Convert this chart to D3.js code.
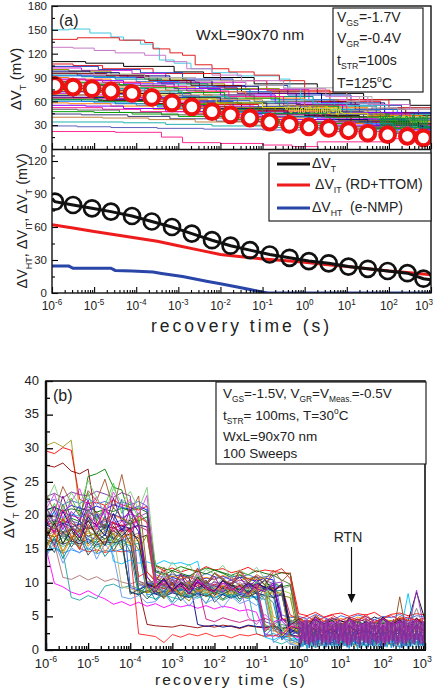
<!DOCTYPE html>
<html>
<head>
<meta charset="utf-8">
<script src="https://cdn.jsdelivr.net/npm/d3@7/dist/d3.min.js"></script>
<style>
html,body{margin:0;padding:0;background:#fff;}
svg{display:block;font-family:"Liberation Sans",Arial,Helvetica,sans-serif;}
text{white-space:pre;}
</style>
</head>
<body>
<svg id="chart" width="433" height="688"></svg>
<script>
// ================= DATA =================
// x: log10(recovery time / s)
const decadeExps = [-6,-5,-4,-3,-2,-1,0,1,2,3];
const yTicksA = [0,30,60,90,120,150,180];
const yTicksA2 = [0,30,60,90,120];
const yTicksB = [0,5,10,15,20,25,30,35,40];

// Panel (a) upper: mean of measured traces (red circles)
const circleLogT = [-5.93,-5.5,-5.05,-4.6,-4.1,-3.63,-3.15,-2.68,-2.2,-1.76,-1.3,-0.83,-0.36,0.1,0.57,1.04,1.5,1.97,2.44,2.82];
const meanDVT = [80,78,76,73,70,65,58,53,47,43,39,34,31,28,26,23,20,18,16,14];

// Panel (a) lower: model
const modelDVT = [83,80,77,74,70,65,60,54,48,43,39,35,32,29,27,24,22,20,18,13];
const dvtLineLogT = [-6,-5.93,-5.5,-5.05,-4.6,-4.1,-3.63,-3.15,-2.68,-2.2,-1.76,-1.3,-0.83,-0.36,0.1,0.57,1.04,1.5,1.97,2.44,2.82,3];
const dvtLineVal  = [86,83,80,77,74,70,65,60,54,48,43,39,35,32,29,27,24,22,20,18,13,12];
const itLogT = [-6,-5.5,-5,-4.5,-4,-3.5,-3,-2.5,-2,-1.5,-1,-0.5,0,0.5,1,1.5,2,2.5,3];
const itVal  = [62,59,56,53,50,47,43,39,35,33,31,29.5,28,26,24,22,20,18.5,16.5];
const htLogT = [-6,-5.6,-5.5,-4.6,-4.5,-4.1,-3.6,-3.4,-2.9,-2.3,-2.0,-1.6,-1.3,-1.05,-0.87,3];
const htVal  = [24.5,24.5,22.5,22.5,20.5,20,19,17.8,15,10.5,8.5,5.5,3.2,1.2,0,0];

// Panel (a) upper: individual traces, [log10 t, dVT(mV)] step points
const tracesA = [
[[-6,110],[-5.2,108],[-4.3,104],[-3.1,97],[-2.4,90],[-1.2,82],[0.3,70],[1.4,62],[2.5,55]],
[[-6,107],[-5.5,105],[-4.8,101],[-3.6,95],[-2.0,86],[-0.9,74],[0.6,60],[1.8,50]],
[[-6,104],[-4.9,100],[-3.9,96],[-2.9,88],[-1.7,80],[-0.4,68],[1.1,55],[2.3,46]],
[[-6,102],[-5.3,99],[-4.1,95],[-3.3,90],[-2.6,84],[-1.4,75],[0.1,62],[1.6,50],[2.7,42]],
[[-6,100],[-5.6,98],[-4.6,94],[-3.8,88],[-2.8,82],[-1.9,76],[-0.6,62],[0.8,50],[2.1,40]],
[[-6,98],[-5.1,96],[-4.4,92],[-3.2,86],[-2.2,79],[-1.1,70],[0.4,58],[1.9,45]],
[[-6,96],[-5.4,93],[-4.2,90],[-3.5,84],[-2.5,77],[-1.6,70],[-0.2,56],[1.3,46],[2.6,38]],
[[-6,95],[-4.7,92],[-3.7,86],[-2.7,80],[-1.5,72],[0.0,60],[1.2,50],[2.4,42]],
[[-6,93],[-5.3,91],[-4.5,88],[-3.4,82],[-2.3,75],[-1.3,66],[0.2,54],[1.7,43]],
[[-6,92],[-5.0,90],[-4.0,85],[-3.0,79],[-2.1,72],[-0.8,62],[0.7,50],[2.2,38]],
[[-6,90],[-5.6,88],[-4.6,84],[-3.6,78],[-2.6,72],[-1.4,64],[0.0,52],[1.5,42],[2.8,35]],
[[-6,88],[-5.2,86],[-4.3,82],[-3.1,76],[-2.0,68],[-0.7,58],[0.9,46],[2.3,36]],
[[-6,87],[-4.8,84],[-3.9,79],[-2.8,73],[-1.8,66],[-0.5,55],[1.0,44],[2.5,34]],
[[-6,85],[-5.4,83],[-4.4,80],[-3.3,74],[-2.4,68],[-1.2,60],[0.3,48],[1.8,38]],
[[-6,84],[-5.0,81],[-4.1,77],[-3.0,71],[-1.9,64],[-0.6,54],[0.8,44],[2.0,35]],
[[-6,82],[-5.5,80],[-4.7,76],[-3.7,70],[-2.7,64],[-1.6,57],[-0.1,47],[1.4,38],[2.6,31]],
[[-6,80],[-5.1,78],[-4.2,74],[-3.2,68],[-2.2,62],[-1.0,54],[0.5,44],[1.9,34]],
[[-6,79],[-4.9,76],[-3.8,72],[-2.9,66],[-1.8,59],[-0.4,50],[1.1,40],[2.4,32]],
[[-6,78],[-5.3,76],[-4.5,73],[-3.5,67],[-2.5,61],[-1.3,53],[0.2,44],[1.6,36],[2.8,30]],
[[-6,76],[-5.0,74],[-4.0,70],[-3.1,65],[-2.0,58],[-0.9,50],[0.6,41],[2.1,32]],
[[-6,75],[-5.6,73],[-4.6,70],[-3.6,64],[-2.6,58],[-1.5,51],[0.0,42],[1.3,35],[2.7,28]],
[[-6,73],[-5.2,71],[-4.3,67],[-3.4,62],[-2.3,56],[-1.1,48],[0.4,40],[1.8,31]],
[[-6,72],[-4.8,69],[-3.9,65],[-2.8,60],[-1.7,53],[-0.5,46],[1.0,37],[2.4,29]],
[[-6,70],[-5.4,68],[-4.4,64],[-3.3,59],[-2.4,54],[-1.2,47],[0.3,38],[1.7,30]],
[[-6,68],[-5.1,66],[-4.1,62],[-3.0,57],[-1.9,52],[-0.7,44],[0.8,36],[2.2,27]],
[[-6,67],[-5.5,65],[-4.7,62],[-3.7,57],[-2.7,51],[-1.4,45],[0.1,37],[1.5,30],[2.8,24]],
[[-6,65],[-5.0,63],[-4.2,60],[-3.2,55],[-2.1,50],[-0.9,43],[0.6,35],[2.0,27]],
[[-6,63],[-4.9,61],[-3.8,57],[-2.9,53],[-1.8,48],[-0.4,41],[1.1,33],[2.5,26]],
[[-6,62],[-5.3,60],[-4.5,57],[-3.5,53],[-2.5,47],[-1.3,41],[0.2,34],[1.6,27]],
[[-6,60],[-5.0,58],[-4.0,55],[-3.1,51],[-2.0,46],[-0.8,40],[0.7,32],[2.1,25]],
[[-6,58],[-5.6,57],[-4.6,54],[-3.6,50],[-2.6,45],[-1.5,39],[0.0,32],[1.4,26],[2.7,21]],
[[-6,55],[-5.2,54],[-4.3,51],[-3.3,47],[-2.2,43],[-1.0,37],[0.5,30],[1.9,24]],
[[-6,52],[-4.8,50],[-3.9,47],[-2.8,44],[-1.7,40],[-0.3,34],[1.2,28],[2.5,22]],
[[-6,50],[-5.4,49],[-4.4,46],[-3.4,43],[-2.3,39],[-1.1,34],[0.4,28],[1.8,22]],
[[-6,47],[-5.0,46],[-4.1,44],[-3.0,41],[-1.9,37],[-0.6,32],[0.9,26],[2.3,20]],
[[-6,44],[-5.3,43],[-4.2,41],[-3.2,38],[-2.1,35],[-0.8,30],[0.6,25],[2.0,20]],
[[-6,40],[-4.8,39],[-3.7,37],[-2.6,34],[-1.4,30],[0.0,26],[1.5,22],[2.7,18]],
[[-6,34],[-5.0,34],[-4.3,33],[-3.3,31],[-2.2,29],[-0.9,27],[0.8,24],[2.2,20]],
[[-6,29],[-5.4,28],[-4.6,27],[-3.5,26],[-2.4,25],[-1.0,24],[0.5,22],[2.0,20]]
];
const outlierTracesA = [
[[-6,150],[-5.6,151],[-5.1,146],[-4.6,141],[-4.3,137],[-3.9,132],[-3.6,127],[-3.45,112],[-3.1,108],[-2.7,101],[-2.2,96],[-1.6,92],[-0.6,88],[-0.35,76],[-0.1,62],[0.2,57],[1,55],[2,52]],
[[-6,138],[-5.4,140],[-4.4,137],[-3.8,134],[-3.6,126],[-3.2,121],[-2.9,118],[-2.6,106],[-2.2,101],[-1.8,97],[-1.2,93],[-0.6,86],[0,72],[1,62],[2,52]],
[[-6,128],[-5.5,127],[-5,124],[-4.5,121],[-3.8,118],[-3.3,110],[-2.8,101],[-2.2,93],[-1.5,86],[-0.5,76],[0.5,66],[1.5,56],[2.5,50]],
[[-6,22],[-4.5,21],[-3.4,15],[-2.9,8],[-2,7],[-1,5],[-0.3,3],[0.3,9],[1,9],[2,13]],
[[-6,96],[-5,94],[-3.8,90],[-2.6,86],[-1.4,80],[-0.5,77],[0.8,74],[1.0,60],[1.3,66],[1.6,52],[2.2,50]],
[[-6,74],[-5.2,72],[-4.1,68],[-3.0,63],[-2.1,58],[-1.0,52],[-0.45,50],[-0.4,53],[-0.35,46],[-0.3,52],[-0.25,47],[-0.2,53],[-0.15,45],[-0.1,51],[-0.05,46],[0,52],[0.05,47],[0.1,53],[0.15,45],[0.2,51],[0.25,46],[0.3,52],[0.35,44],[0.4,50],[0.45,46],[0.5,53],[0.55,45],[0.6,51],[0.65,47],[0.7,52],[0.75,44],[0.8,50],[0.85,46],[0.9,45],[1.5,40],[2.5,35]],
[[-6,62],[-4.8,60],[-3.5,56],[-2.2,50],[-1.0,45],[0.5,40],[1.76,41],[1.8,27],[1.84,40],[1.88,29],[1.92,42],[1.96,26],[2,39],[2.04,28],[2.08,41],[2.12,25],[2.16,40],[2.2,30],[2.24,42],[2.28,27],[2.32,39],[2.36,26],[2.4,41],[2.44,29],[2.48,40],[2.52,28],[2.56,42],[2.6,26],[2.64,39],[2.68,27],[2.72,41],[2.76,30],[2.8,40],[2.84,25],[2.88,42],[2.92,28]]
];
const outlierColorsA = ["#40c8e0","#e02020","#c878c8","#ff2a90","#b0b0b0","#e8e000","#00a030"];

// Panel (b): 100 sweeps (subset), sampled on a common log-time grid
const gridB = [-6,-5.8,-5.6,-5.4,-5.2,-5,-4.8,-4.6,-4.4,-4.2,-4,-3.8,-3.6,-3.4,-3.2,-3,-2.8,-2.6,-2.4,-2.2,-2,-1.8,-1.6,-1.4,-1.2,-1,-0.8,-0.6,-0.4,-0.2,0,0.2,0.4,0.6,0.8,1,1.2,1.4,1.6,1.8,2,2.2,2.4,2.6,2.8,3];
const tracesB = [
[30.4,30.9,30.2,31.2,20.5,19.8,20.6,19.4,20.2,19.6,18.8,19.5,9.8,9.4,9.9,9.2,9.6,10.1,9.3,9.7,9.0,9.5,9.8,9.1,9.6,9.3,3.8,3.2,2.9,3.5,3.1,2.6,3.4,2.8,3.2,2.5,3.6,2.9,3.3,2.7,3.0,3.5,2.8,3.2,3.7,3.1],
[29.6,29.2,30.1,29.7,22.4,21.8,22,21.5,22.3,21.6,21.2,20.8,21.4,12.5,11.8,12.2,11.6,12.0,11.7,12.4,11.9,12.1,11.5,11.8,12.3,11.6,11.9,11.7,11.5,11.4,5.4,5.1,5.6,4.9,5.3,5.5,5.0,5.4,5.2,5.6,4.8,5.3,5.5,5.1,5.4,5.2],
[27.5,27.2,27.8,26.6,26.2,26.9,18.9,18.5,18.1,18.6,17.9,9.2,3.8,3.6,3.5,3.4,3.7,3.5,3.3,3.6,3.4,3.7,3.5,3.2,3.6,3.4,3.3,3.5,3.1,3.4,3.2,3.5,2.9,3.3,3.6,3.0,3.4,2.8,3.2,3.5,3.1,2.9,3.4,3.2,3.6,3.0],
[18.5,19.2,18.8,19.6,19.1,25.8,26.2,26.9,24.2,23.8,19.6,19.2,19.8,12.6,12.1,11.8,12.4,12.0,11.6,12.2,11.9,11.4,10.8,11.2,10.6,10.9,9.6,9.9,9.4,9.7,4.1,3.6,4.4,3.8,4.2,3.5,4.0,4.3,3.7,4.1,3.9,4.4,3.6,4.0,4.2,3.8],
[22.8,23.3,22.6,23.5,23.1,22.9,23.6,23.2,22.7,23.4,22.9,10.2,9.8,10.4,9.6,10.0,9.7,10.3,9.9,9.5,10.1,9.8,10.4,9.7,10.0,9.6,4.2,3.8,4.5,3.9,4.3,3.7,4.6,4.0,3.6,4.4,3.9,4.2,3.5,4.5,4.1,3.8,4.3,3.9,4.6,4.0],
[20.8,21.3,20.6,21.5,21.1,20.7,21.4,20.9,21.6,21.2,20.9,21.4,20.8,10.6,10.2,10.8,10.4,10.9,10.3,10.7,10.5,11.0,10.4,10.8,10.6,10.2,10.7,10.4,2.6,2.2,2.8,2.3,3.1,2.5,2.9,2.1,2.7,3.2,2.4,2.8,2.2,3.0,2.6,2.3,2.9,2.5],
[17.2,16.8,17.5,16.6,17.9,16.9,17.4,16.5,17.8,16.7,17.3,16.6,17.1,9.6,9.2,9.8,9.4,9.9,9.3,9.7,9.5,9.1,9.6,9.4,9.8,9.2,9.5,9.3,4.6,4.2,4.8,4.1,4.5,3.9,4.7,4.3,4.0,4.6,4.2,4.9,4.4,4.1,4.7,4.3,8.6,4.5],
[15.2,9.9,9.4,8.6,8.2,8.8,8.1,7.6,6.8,7.2,6.6,7.1,6.5,6.9,6.3,6.8,6.4,6.7,6.2,6.6,6.1,6.5,6.3,5.8,6.0,5.6,2.4,2.0,2.6,2.2,1.8,2.3,1.6,2.1,1.9,2.4,1.5,2.0,2.2,1.7,2.3,1.8,2.1,1.6,2.2,1.9],
[16.5,15.8,10.8,10.5,11.1,10.4,10.9,10.2,10.6,10.1,9.8,10.3,9.6,9.9,9.4,9.7,9.2,9.6,9.0,9.4,8.9,9.3,8.8,9.1,8.7,8.4,3.2,2.8,3.4,3.0,2.6,3.1,2.4,2.9,3.3,2.7,2.5,3.0,2.8,3.2,2.6,2.9,3.1,2.5,2.8,3.0],
[14.8,15.2,14.6,7.8,7.4,8.1,7.6,9.5,9.8,9.2,9.6,9.1,9.4,8.8,9.2,8.6,9.0,8.7,9.1,8.5,8.9,8.4,8.8,8.3,8.6,2.4,2.0,2.5,1.8,2.2,1.4,1.9,1.2,1.7,2.1,1.5,1.3,1.8,1.6,2.0,1.4,1.7,1.9,1.3,1.6,1.8],
[17.5,17.8,17.2,18.0,15.1,14.6,14.9,14.5,14.8,14.6,14.8,2.4,2.2,2.0,1.1,2.3,1.9,2.4,2.1,2.5,2.0,2.2,1.8,2.3,2.1,2.4,2.0,2.2,1.9,2.1,2.1,1.8,2.3,1.6,2.0,2.2,1.7,2.4,1.9,2.1,1.5,2.2,1.8,2.0,2.3,1.9],
[18.6,18.1,18.9,18.3,18.7,18.0,18.5,18.2,18.8,18.4,18.1,18.6,18.3,11.8,11.4,10.9,11.2,10.8,3.8,3.5,3.7,3.4,3.6,3.3,3.7,3.5,3.4,3.6,3.2,3.5,3.3,3.6,3.1,3.4,3.7,3.2,3.5,2.9,3.3,3.6,3.0,3.4,3.2,3.5,3.1,3.3],
[19.4,19.9,19.2,20.1,19.6,19.1,19.8,19.3,20.0,19.5,19.2,19.7,19.0,10.9,10.5,11.0,10.6,10.9,10.4,10.8,10.5,11.1,10.6,10.3,10.7,10.4,10.8,4.9,4.5,5.0,4.6,4.2,4.8,4.4,4.1,4.7,4.3,4.9,4.5,4.0,4.6,4.3,4.8,4.4,4.2,4.6],
[16.1,16.6,15.9,16.8,16.3,15.8,16.5,16.0,16.7,16.2,15.9,16.4,9.1,8.7,9.3,8.9,9.2,8.6,9.0,8.8,9.4,8.7,9.1,8.5,8.9,8.6,9.0,8.7,8.9,8.4,3.4,2.9,3.6,3.1,2.7,3.5,3.0,3.3,2.8,3.6,3.2,2.9,3.4,3.0,3.5,3.1],
[19.8,20.4,19.6,20.2,19.9,20.6,19.7,20.3,13.2,12.8,13.4,12.9,13.1,12.7,13.3,12.8,13.0,12.6,13.2,8.2,7.8,8.3,7.9,8.1,7.6,8.0,1.9,1.5,2.1,1.7,1.6,2.0,1.3,1.8,1.5,2.2,1.4,1.9,1.6,1.2,1.8,1.5,2.1,8.4,1.7,1.9],
[17.6,18.2,17.4,18.0,17.7,18.3,17.5,18.1,17.3,17.9,17.6,9.9,9.5,10.0,9.6,9.3,9.8,9.4,9.9,9.2,9.7,9.5,9.0,9.6,9.3,9.8,9.4,9.1,9.5,1.6,1.0,1.4,0.8,1.2,0.9,1.5,1.1,0.7,1.3,1.0,1.4,0.9,7.9,1.1,1.3,1.0],
[21.9,22.4,21.6,22.2,21.8,22.5,21.7,22.1,21.5,22.0,21.6,22.1,21.4,11.2,10.8,11.3,10.9,11.1,10.7,11.4,10.9,10.6,11.0,10.8,11.2,10.7,10.9,11.1,5.2,4.8,5.0,4.6,5.3,4.8,4.4,5.1,4.7,5.2,4.9,4.5,5.0,4.8,5.3,4.6,5.1,4.9],
[17.0,17.6,16.8,17.4,17.1,17.7,16.9,17.5,16.7,17.3,16.9,17.4,9.3,8.9,9.5,9.1,8.8,9.4,9.0,9.6,9.2,8.7,9.3,8.9,9.5,9.0,9.2,2.9,2.5,3.1,2.7,3.2,2.4,2.9,3.3,2.6,3.0,2.8,3.4,2.5,2.9,3.1,2.7,3.2,6.2,2.8],
[18.9,19.4,18.7,19.2,18.8,19.5,18.6,19.1,18.9,19.3,18.7,9.7,9.3,9.9,9.5,9.2,9.8,9.4,9.0,9.6,9.3,9.9,9.5,9.1,9.7,9.4,9.2,9.6,9.3,4.1,3.8,4.3,3.6,4.0,4.4,3.7,4.1,3.5,4.2,3.9,4.5,3.6,4.0,4.3,3.8,4.1],
[16.4,15.9,16.7,16.2,15.8,16.5,16.0,16.6,16.1,15.7,8.7,8.3,8.9,8.6,8.2,8.8,8.4,8.1,8.7,8.3,8.9,8.5,8.0,8.6,8.2,8.8,3.6,3.2,3.8,3.4,3.1,3.5,2.8,3.3,3.7,3.0,3.4,2.9,3.6,3.2,2.8,3.3,3.5,3.0,3.4,3.2],
[18.2,17.8,18.5,18.0,17.6,18.3,17.9,18.6,18.1,17.7,18.0,18.4,17.8,10.1,9.7,10.3,9.9,9.5,10.0,4.6,4.2,4.8,4.4,4.1,4.5,4.3,4.7,4.2,4.6,4.4,4.0,4.5,3.8,4.2,4.6,3.9,4.3,4.1,4.7,3.8,4.4,4.0,4.5,3.9,4.3,4.1],
[15.6,16.1,15.4,15.9,15.5,16.2,15.3,15.8,15.6,16.0,15.5,15.9,8.0,7.6,8.2,7.8,7.5,8.1,7.7,8.3,7.9,7.4,8.0,7.6,8.2,7.8,7.5,1.3,0.9,1.5,1.1,0.7,1.4,1.0,0.8,1.3,0.9,1.2,0.6,1.1,1.4,0.8,1.2,1.0,1.3,0.9],
[20.3,19.8,20.5,20.0,19.6,20.4,19.9,20.6,20.1,19.7,20.2,19.8,20.4,10.3,9.9,10.5,10.1,9.7,10.4,10.0,9.6,10.2,9.8,10.4,10.0,9.7,10.3,9.9,10.1,2.8,2.4,3.0,2.2,2.7,3.2,2.5,2.9,2.3,2.8,3.1,2.6,2.4,3.0,2.7,8.9,2.5],
[14.6,15.1,14.4,14.9,14.5,15.2,14.3,14.8,14.6,15.0,14.5,14.9,8.2,8.4,8.0,8.6,8.2,7.9,8.5,8.1,7.7,8.3,7.9,8.5,8.1,7.8,8.4,8.0,1.8,1.4,1.6,1.2,1.9,1.5,1.1,1.7,1.3,1.8,1.4,1.0,1.6,1.2,1.7,1.5,1.9,1.3],
[17.8,18.3,17.6,18.1,17.7,18.4,17.5,18.0,17.4,9.4,9.1,8.7,9.3,9.0,8.6,9.2,8.8,8.5,9.1,8.7,9.3,8.9,8.4,9.0,8.6,9.2,8.8,8.5,3.0,2.6,2.8,3.3,2.5,3.0,3.4,2.7,3.1,2.6,3.2,2.9,3.5,2.7,3.1,3.3,2.8,3.0],
[19.0,18.6,19.3,18.8,18.4,19.1,18.7,19.4,18.9,18.5,18.8,19.2,9.3,9.5,9.1,9.7,9.3,9.0,9.6,9.2,9.8,9.4,8.9,9.5,9.1,9.7,9.3,9.0,9.4,5.2,4.6,5.0,4.3,4.8,5.2,4.4,4.9,4.5,5.0,4.2,4.7,5.1,4.5,4.9,4.4,4.8],
[16.8,16.3,17.0,16.5,16.1,16.9,16.4,17.1,16.6,16.2,16.7,9.0,8.6,9.2,8.8,8.5,9.1,8.7,9.3,8.9,8.4,9.0,8.6,9.2,8.8,8.5,9.1,8.7,8.9,0.9,0.6,1.0,0.4,0.8,1.1,0.5,0.9,0.7,1.2,0.6,1.0,0.8,0.5,0.9,1.1,0.7],
[20.8,21.2,20.6,21.0,20.7,21.3,20.5,20.9,20.6,21.1,20.7,21.1,20.5,11.6,11.2,11.8,11.4,11.0,11.7,11.3,11.9,11.5,11.1,11.6,11.2,11.8,11.4,11.1,11.5,11.3,3.9,3.5,4.2,3.7,3.3,4.0,3.6,4.1,3.8,3.4,4.0,3.7,4.2,3.6,3.9,3.7],
[15.9,16.4,15.7,16.2,15.8,16.5,15.6,16.1,15.9,16.3,8.6,8.2,8.8,8.3,7.9,8.5,8.1,7.8,8.4,8.0,8.6,8.2,7.7,8.3,7.9,8.5,8.1,7.8,8.2,2.3,2.0,2.5,1.8,2.3,2.7,2.1,2.4,1.9,2.6,2.2,1.7,2.3,2.5,2.0,2.4,2.1],
[17.3,16.9,17.6,17.1,16.7,17.4,17.0,17.7,17.2,16.8,17.1,8.9,8.5,8.8,8.4,9.0,8.6,8.3,8.9,8.5,9.1,8.7,8.2,8.8,8.4,9.0,8.6,8.3,8.7,1.2,0.8,1.3,0.6,1.0,1.4,0.7,1.1,0.5,1.2,0.9,1.3,0.7,1.0,1.2,0.8,1.1],
[19.5,21.8,18.9,22.6,20.1,23.4,19.2,21.5,24.8,20.3,22.1,19.6,10.8,9.2,11.4,8.9,10.6,9.7,11.2,9.0,10.3,8.7,10.9,9.5,8.8,10.2,9.1,3.9,2.6,4.4,2.9,4.1,2.2,3.6,4.5,2.7,3.3,4.2,2.4,3.8,4.6,2.8,3.5,4.0,2.5,3.9],
[17.8,15.6,18.9,16.2,19.4,15.8,17.1,19.9,16.4,18.2,15.9,8.9,9.6,8.4,8.7,10.1,8.2,9.6,8.9,10.4,8.1,9.3,10.0,8.5,9.8,8.3,9.4,8.8,1.9,3.1,2.3,1.4,3.0,2.0,1.1,2.7,1.6,3.3,2.1,1.3,2.9,1.7,3.2,1.5,2.4,1.8],
[21.3,18.7,22.9,19.5,17.8,21.9,20.4,18.2,22.6,19.1,20.8,18.4,10.9,9.4,10.7,9.1,11.3,8.8,10.2,9.6,11.0,8.6,9.9,10.8,9.3,10.5,8.9,9.7,4.8,3.2,4.5,3.0,4.9,3.6,4.2,2.8,4.7,3.4,4.0,2.9,4.6,3.3,4.4,3.1,4.8,3.5],
[16.9,19.2,15.8,18.4,17.3,20.1,16.5,18.8,15.9,17.7,19.0,9.0,8.5,9.4,8.1,9.9,7.9,9.1,8.6,10.2,8.3,9.5,7.8,9.8,8.4,9.2,2.7,3.8,2.2,3.5,2.6,3.9,2.1,3.4,2.8,1.9,3.6,2.4,3.1,2.0,3.7,2.5,3.3,2.2,3.8,2.7],
[14.2,16.8,13.6,15.9,17.4,14.8,16.3,13.9,15.5,17.0,14.6,8.1,9.6,7.4,8.8,7.1,9.2,7.8,8.5,6.9,9.0,7.6,8.3,7.2,8.9,7.5,8.2,7.0,1.5,2.6,1.2,2.3,0.8,1.9,2.7,1.1,2.1,0.9,2.5,1.4,2.2,0.7,1.8,2.6,1.0,2.0],
[23.1,20.6,24.3,21.8,19.9,23.7,22.2,25.4,21.0,26.1,20.4,22.9,11.6,10.1,12.3,9.8,11.1,10.6,12.0,9.5,11.4,10.3,9.9,11.7,10.0,11.2,10.5,11.9,10.2,11.5,3.4,2.2,3.9,2.7,3.1,2.0,3.7,2.5,3.3,2.1,3.8,2.6,3.0,2.3,3.6,2.8],
[18.4,20.7,17.2,19.8,21.5,18.0,20.2,17.6,19.3,22.4,9.3,8.9,10.0,9.7,8.4,10.5,8.8,9.9,8.2,10.1,9.0,8.6,9.4,8.1,9.8,8.7,2.1,3.4,1.7,2.9,2.4,3.6,1.8,3.0,2.2,3.5,1.6,2.8,3.3,2.0,3.7,2.5,3.1,1.9,3.4,2.6],
[15.4,17.6,14.7,16.9,15.1,18.2,14.4,16.5,17.3,15.0,16.8,14.9,17.1,8.9,7.6,9.4,8.2,7.3,9.1,7.9,8.6,7.4,9.3,8.0,7.7,8.8,7.5,9.0,8.1,7.8,2.0,0.9,2.5,1.3,1.9,0.6,2.3,1.1,1.7,0.8,2.6,1.4,2.1,0.7,1.8,1.2],
[18.0,15.3,19.6,16.8,14.9,18.7,17.2,15.6,19.1,16.3,17.9,10.9,11.6,10.4,11.8,9.6,11.1,10.0,12.2,9.8,11.5,10.7,9.4,11.9,10.3,11.0,9.7,11.6,12.1,10.6,4.7,3.9,5.2,4.2,4.9,3.7,4.6,4.3,5.3,4.0,4.8,3.8,5.0,4.4,4.6,4.1],
[20.9,23.2,19.6,22.1,24.0,20.5,22.8,19.9,23.5,21.2,22.4,20.1,23.0,9.8,11.2,8.9,10.6,9.3,11.5,9.1,10.2,8.7,10.9,9.6,4.9,3.8,5.3,4.1,4.6,3.6,4.4,3.2,4.8,3.7,4.2,3.0,4.6,3.5,4.0,3.3,4.9,3.6,4.3,3.1,4.7,3.4],
[16.2,14.5,17.7,15.3,16.9,14.1,15.8,17.3,14.8,16.6,8.3,9.0,7.6,8.8,7.8,9.2,7.3,8.6,7.9,9.5,7.1,8.3,9.0,7.6,8.8,7.4,9.3,7.7,8.5,3.1,2.6,3.7,2.0,3.3,2.4,3.9,1.8,3.0,2.7,3.5,2.2,3.8,2.5,3.2,1.9,3.4],
[22.0,24.6,20.8,23.4,21.5,25.2,22.7,20.3,24.1,21.8,23.6,20.9,24.2,12.4,10.9,13.1,11.6,12.8,10.5,12.0,11.3,12.6,10.8,11.9,11.1,12.3,10.6,4.2,3.1,4.6,3.8,2.7,4.3,3.2,3.9,2.5,4.1,3.0,3.6,2.8,4.4,3.3,3.7,2.6,4.0,3.1],
[19.1,17.4,20.6,18.2,16.7,19.8,18.5,17.0,20.3,17.8,19.4,17.6,9.7,9.2,10.5,8.6,9.9,8.3,10.2,9.0,8.7,10.4,8.9,9.6,8.4,10.0,9.3,8.8,9.7,2.5,3.5,2.1,3.9,2.6,3.2,1.8,3.7,2.4,3.0,2.0,3.6,2.3,3.4,1.9,3.8,2.7],
[15.0,17.5,14.3,16.6,18.1,15.4,17.0,14.6,16.2,17.8,15.6,17.2,8.5,9.8,7.9,9.3,8.2,10.0,8.7,9.1,7.8,9.6,8.4,9.9,8.0,9.4,8.6,3.0,2.1,3.5,2.7,1.8,3.2,2.3,2.9,1.6,3.4,2.0,2.6,1.9,3.1,2.4,2.8,1.7,3.3,2.2],
[17.6,20.2,16.9,19.4,18.0,21.0,17.3,19.7,18.4,16.6,19.9,9.6,10.2,10.0,8.8,10.7,9.2,10.3,8.5,9.8,9.4,10.6,8.9,10.1,9.0,9.7,8.6,10.4,9.1,9.5,4.0,2.9,4.4,3.3,3.8,2.6,4.2,3.1,3.6,2.7,4.3,3.0,3.9,2.8,4.1,3.4],
[18.8,21.4,17.9,20.6,19.2,22.3,18.3,20.9,19.6,17.5,21.0,18.6,9.9,8.6,10.4,9.0,9.7,8.3,10.1,9.4,8.8,10.3,9.2,8.5,9.8,9.1,8.7,10.0,4.3,3.0,4.1,2.8,4.6,3.4,4.0,2.6,4.5,3.1,3.8,2.9,4.7,3.5,4.2,2.7,4.4,3.2],
[13.8,16.1,12.9,15.2,14.4,16.7,13.5,15.8,14.1,7.9,7.6,8.1,7.0,7.2,8.5,6.8,7.9,6.5,8.2,7.0,7.6,6.3,8.0,6.9,7.4,6.6,8.1,1.1,2.0,0.8,1.6,0.6,1.9,1.0,1.4,0.5,1.8,0.9,1.3,0.7,2.0,1.2,1.5,0.4,1.7,1.1],
[20.1,18.3,21.6,19.0,17.7,20.9,19.4,18.0,21.2,19.7,18.5,20.4,19.1,11.0,9.6,11.7,10.2,9.3,10.9,9.9,11.4,10.5,9.5,11.2,10.0,10.8,9.7,11.1,10.4,9.8,2.2,1.3,2.7,1.7,2.4,1.0,2.9,1.5,2.1,1.2,2.6,1.8,2.3,1.1,2.8,1.6],
[16.6,18.9,15.8,17.9,16.2,19.3,17.0,15.5,18.4,16.9,18.2,16.0,9.8,9.4,10.6,8.8,10.1,9.0,10.8,9.3,8.7,10.3,9.6,8.9,10.0,9.2,10.5,8.6,9.9,3.7,4.6,3.3,5.0,3.9,4.4,3.1,4.8,3.6,4.2,3.4,4.9,3.8,4.5,3.2,4.7,3.5],
[19.7,17.2,20.9,18.6,16.8,20.3,18.0,21.5,17.6,19.2,17.4,20.0,18.9,9.1,10.2,8.5,9.7,8.8,10.5,9.3,8.6,10.0,8.9,9.5,8.2,9.8,2.9,4.0,2.4,3.6,3.3,2.2,3.8,2.7,3.5,2.0,3.9,2.5,3.1,2.3,3.7,2.8,3.4,2.1,3.6,2.6]
];
const colorsB = ["#9a9a20","#ff0000","#8b0000","#008000","#7b2d9b","#0000ff","#000000","#ff00ff","#b07070","#20a0a0",
                 "#ff2020","#000080","#ff8c00","#9acd32","#00bfff","#8b4513","#4169e1","#808080","#6a5acd","#2e8b57",
                 "#c71585","#20b2aa","#9932cc","#1e90ff","#bdb76b","#dc143c","#4682b4","#006400","#191970","#daa520",
                 "#32cd32","#1a237e","#800080","#228b22","#008b8b","#a0522d","#3050d0","#808000","#e8221e","#e040e0",
                 "#2f4f4f","#7ccd7c","#00008b","#ff7f00","#909090","#9400d3","#6495ed","#556b2f","#202020","#ff1493"];
// dense RTN part of panel (b), finer grid from 1 s to 1000 s
const gridTail = [0,0.05,0.1,0.15,0.2,0.25,0.3,0.35,0.4,0.45,0.5,0.55,0.6,0.65,0.7,0.75,0.8,0.85,0.9,0.95,1,1.05,1.1,1.15,1.2,1.25,1.3,1.35,1.4,1.45,1.5,1.55,1.6,1.65,1.7,1.75,1.8,1.85,1.9,1.95,2,2.05,2.1,2.15,2.2,2.25,2.3,2.35,2.4,2.45,2.5,2.55,2.6,2.65,2.7,2.75,2.8,2.85,2.9,2.95,3];
const tailTeal = [0.2,1.9,0.5,1.6,0.1,2.0,0.4,1.7,0.3,1.8,0.6,1.5,0.2,1.9,0.5,1.6,0.1,2.1,0.4,1.7,0.3,1.8,0.6,1.5,0.2,2.0,0.5,1.6,0.1,1.9,0.4,1.7,0.3,1.8,0.6,1.5,0.2,2.0,0.5,1.6,0.1,1.9,0.4,1.7,0.3,1.8,0.6,1.5,0.2,2.0,0.5,1.6,0.1,1.9,0.4,1.7,0.3,1.8,0.6,1.5,0.3];
const tailBlue = [3.0,0.4,2.7,0.8,3.2,0.3,2.5,0.6,2.9,0.5,3.1,0.9,2.6,0.4,3.0,0.7,2.8,0.3,3.2,0.6,2.5,0.8,2.9,0.4,3.1,0.5,2.7,0.9,3.0,0.3,2.6,0.7,3.2,0.4,2.8,0.6,2.5,0.8,3.1,0.3,2.9,0.5,2.7,0.9,3.0,0.4,2.6,0.7,3.2,0.3,2.8,0.6,2.5,0.5,3.1,0.8,2.9,0.4,2.7,0.6,2.8];
const tailPurple2 = [1.0,4.2,1.4,4.5,0.9,3.9,1.2,4.4,0.7,4.1,1.5,4.3,1.1,4.6,0.8,4.0,1.3,4.2,0.9,4.5,1.4,3.8,1.0,4.3,0.7,4.4,1.2,4.1,0.9,4.6,1.5,4.0,1.1,4.2,0.8,4.5,1.3,3.9,1.0,4.4,0.7,4.1,1.2,4.3,1.4,4.6,0.9,4.0,1.1,4.2,0.8,4.5,1.3,3.9,1.0,4.4,1.5,4.1,0.9,4.3,1.0];
const tailPurple = [4.3,0.9,4.1,1.3,4.5,0.8,3.9,1.1,4.4,1.4,4.2,0.7,4.0,1.2,4.6,1.0,3.8,1.5,4.3,0.9,4.1,1.3,4.4,0.8,3.9,1.1,4.5,1.4,4.2,0.7,4.0,1.2,4.6,1.0,4.3,1.5,4.1,0.9,4.4,1.3,3.9,0.8,4.5,1.1,4.2,1.4,4.0,0.7,4.3,1.2,4.6,1.0,4.1,1.5,4.4,0.9,4.2,1.3,3.9,1.1,4.3];
const tailSeries = [tailTeal, tailBlue, tailPurple2, tailPurple];
const tailColors = ["#1aa3c8","#2a4bb0","#9b3aa8","#8e2a9a"];
const tailWidths = [1, 1, 1, 1.3];

// ================= DRAWING =================
const svg = d3.select("#chart");
const FONT = '"Liberation Sans",Arial,Helvetica,sans-serif';
const paletteA = ["#000000","#e41a1c","#1f3fbf","#d020d0","#8c8c00","#00007f","#7f007f","#7f0000","#007f7f","#2080ff",
                  "#ff8000","#8000ff","#ff1493","#606060","#00a000","#404080","#c08040","#20b0b0","#6060c0","#303030"];

function rich(sel, parts, fs) {
  let cur = 0;
  parts.forEach(([s, m]) => {
    const target = m === "sub" ? fs * 0.32 : (m === "sup" ? -fs * 0.42 : 0);
    const ts = sel.append("tspan").attr("dy", target - cur).text(s);
    if (m !== "n") ts.style("font-size", (fs * 0.62) + "px");
    cur = target;
  });
  return sel;
}
function minorLogTicks() {
  const out = [];
  for (let e = -6; e < 3; e++) for (let k = 2; k <= 9; k++) out.push(k * Math.pow(10, e));
  return out;
}
const toSec = e => Math.pow(10, e);

function xAxis(g, x, y0, maj, min, sw) {
  const a1 = g.append("g").attr("transform", `translate(0,${y0})`)
    .call(d3.axisBottom(x).tickValues(decadeExps.map(toSec)).tickSize(-maj).tickFormat(""));
  const a2 = g.append("g").attr("transform", `translate(0,${y0})`)
    .call(d3.axisBottom(x).tickValues(minorLogTicks()).tickSize(-min).tickFormat(""));
  [a1, a2].forEach(a => { a.select(".domain").remove(); a.selectAll("line").attr("stroke", "#000").attr("stroke-width", sw); });
}
function yAxis(g, y, x0, ticks, minors, maj, min, fs, pad, sw, dyEm) {
  const a1 = g.append("g").attr("transform", `translate(${x0},0)`)
    .call(d3.axisLeft(y).tickValues(ticks).tickSize(-maj).tickPadding(pad).tickFormat(d3.format("d")));
  a1.select(".domain").remove();
  a1.selectAll("line").attr("stroke", "#000").attr("stroke-width", sw);
  a1.selectAll("text").style("font-size", fs + "px").style("font-family", FONT).attr("fill", "#222")
    .attr("dy", dyEm + "em");
  const a2 = g.append("g").attr("transform", `translate(${x0},0)`)
    .call(d3.axisLeft(y).tickValues(minors).tickSize(-min).tickFormat(""));
  a2.select(".domain").remove();
  a2.selectAll("line").attr("stroke", "#000").attr("stroke-width", sw);
}
function xLabels(g, x, yb, fs, rightLimit) {
  decadeExps.forEach((e, i) => {
    const last = i === decadeExps.length - 1;
    const t = g.append("text").attr("x", last ? rightLimit : x(toSec(e))).attr("y", yb)
      .attr("text-anchor", last ? "end" : "middle").style("font-size", fs + "px").attr("fill", "#222");
    t.append("tspan").text("10");
    t.append("tspan").attr("dy", -fs * 0.45).style("font-size", (fs * 0.68) + "px").text(String(e));
  });
}

// ---------- Panel (a) ----------
const xA = d3.scaleLog().domain([1e-6, 1e3]).range([52, 431]);
const yA = d3.scaleLinear().domain([0, 180]).range([149, 6]);
const yA2 = d3.scaleLinear().domain([0, 130]).range([293, 150]);

const defs = svg.append("defs");
defs.append("clipPath").attr("id", "clipA").append("rect").attr("x", 52).attr("y", 6).attr("width", 379).attr("height", 143);
defs.append("clipPath").attr("id", "clipA2").append("rect").attr("x", 52).attr("y", 150).attr("width", 379).attr("height", 143);
defs.append("clipPath").attr("id", "clipB").append("rect").attr("x", 46).attr("y", 381).attr("width", 379).attr("height", 269);

const stepA = d3.line().x(d => xA(toSec(d[0]))).y(d => yA(d[1])).curve(d3.curveStepAfter);
const gTr = svg.append("g").attr("clip-path", "url(#clipA)");
const extend = pts => pts.concat([[3, pts[pts.length - 1][1]]]);
tracesA.forEach((pts, i) => {
  gTr.append("path").attr("d", stepA(extend(pts))).attr("fill", "none")
    .attr("stroke", paletteA[i % paletteA.length]).attr("stroke-width", 1);
});
outlierTracesA.forEach((pts, i) => {
  gTr.append("path").attr("d", stepA(extend(pts))).attr("fill", "none")
    .attr("stroke", outlierColorsA[i]).attr("stroke-width", 1);
});
gTr.selectAll("circle.mean").data(circleLogT.map((t, i) => [t, meanDVT[i]])).enter()
  .append("circle").attr("cx", d => xA(toSec(d[0]))).attr("cy", d => yA(d[1])).attr("r", 7.4)
  .attr("fill", "#fff").attr("stroke", "#ee1111").attr("stroke-width", 4);

// lower panel (a) model curves
const gMod = svg.append("g").attr("clip-path", "url(#clipA2)");
const lineA2 = d3.line().x(d => xA(toSec(d[0]))).y(d => yA2(d[1]));
gMod.append("path").attr("d", lineA2(htLogT.map((t, i) => [t, htVal[i]]))).attr("fill", "none")
  .attr("stroke", "#2a45a8").attr("stroke-width", 3);
gMod.append("path").attr("d", lineA2(itLogT.map((t, i) => [t, itVal[i]]))).attr("fill", "none")
  .attr("stroke", "#ee1c1c").attr("stroke-width", 3);
gMod.append("path").attr("d", lineA2(dvtLineLogT.map((t, i) => [t, dvtLineVal[i]]))).attr("fill", "none")
  .attr("stroke", "#111").attr("stroke-width", 3);
gMod.selectAll("circle.m").data(circleLogT.map((t, i) => [t, modelDVT[i]])).enter()
  .append("circle").attr("cx", d => xA(toSec(d[0]))).attr("cy", d => yA2(d[1])).attr("r", 8)
  .attr("fill", "none").attr("stroke", "#111").attr("stroke-width", 2.7);

// axes (a)
const gAx = svg.append("g");
xAxis(gAx, xA, 149, 6, 3, 1.1);
xAxis(gAx, xA, 293, 6, 3, 1.1);
yAxis(gAx, yA, 52, yTicksA, [15,45,75,105,135,165], 6, 3, 11.5, 5, 1.1, 0.32);
yAxis(gAx, yA2, 52, yTicksA2, [15,45,75,105,125], 6, 3, 11.5, 5, 1.1, 0.32);
gAx.append("rect").attr("x", 52).attr("y", 6).attr("width", 379).attr("height", 287)
  .attr("fill", "none").attr("stroke", "#111").attr("stroke-width", 1.4);
gAx.append("line").attr("x1", 52).attr("x2", 431).attr("y1", 149.5).attr("y2", 149.5)
  .attr("stroke", "#111").attr("stroke-width", 1.4);
xLabels(gAx, xA, 310, 12, 433);

gAx.append("text").attr("x", 240).attr("y", 332).attr("text-anchor", "middle")
  .attr("textLength", 178).attr("lengthAdjust", "spacing")
  .style("font-size", "17.5px").attr("fill", "#222").text("recovery time (s)");
rich(gAx.append("text").attr("transform", "translate(21,79) rotate(-90)").attr("text-anchor", "middle")
  .style("font-size", "15px").attr("fill", "#222"), [["ΔV","n"],["T","sub"],[" (mV)","n"]], 15);
rich(gAx.append("text").attr("transform", "translate(27,221) rotate(-90)").attr("text-anchor", "middle")
  .style("font-size", "14.5px").attr("fill", "#222"),
  [["ΔV","n"],["HT","sub"],[", ΔV","n"],["IT","sub"],[", ΔV","n"],["T","sub"],[" (mV)","n"]], 14.5);

gAx.append("text").attr("x", 59).attr("y", 26).style("font-size", "16px").attr("fill", "#222").text("(a)");
gAx.append("text").attr("x", 196).attr("y", 40).style("font-size", "15.5px").attr("fill", "#222").text("WxL=90x70 nm");

// info box (a)
gAx.append("rect").attr("x", 333).attr("y", 8).attr("width", 90).attr("height", 84)
  .attr("fill", "#fff").attr("stroke", "#222").attr("stroke-width", 1.2);
const infoA = [
  [["V","n"],["GS","sub"],["=-1.7V","n"]],
  [["V","n"],["GR","sub"],["=-0.4V","n"]],
  [["t","n"],["STR","sub"],["=100s","n"]],
  [["T=125","n"],["o","sup"],["C","n"]]
];
const infoAY = [22, 43, 65, 88];
infoA.forEach((parts, i) => {
  rich(gAx.append("text").attr("x", 337).attr("y", infoAY[i]).style("font-size", "14px").attr("fill", "#222"), parts, 14);
});

// legend (a lower)
gAx.append("rect").attr("x", 269).attr("y", 153).attr("width", 162).attr("height", 68)
  .attr("fill", "#fff").attr("stroke", "#222").attr("stroke-width", 1.2);
const legItems = [
  {c: "#111", y: 164, parts: [["ΔV","n"],["T","sub"]], tx: 312},
  {c: "#ee1c1c", y: 185, parts: [[" ΔV","n"],["IT","sub"],[" (RD+TTOM)","n"]], tx: 312},
  {c: "#2a45a8", y: 208, parts: [["ΔV","n"],["HT","sub"],["  (e-NMP)","n"]], tx: 312}
];
legItems.forEach(it => {
  gAx.append("line").attr("x1", 277).attr("x2", 310).attr("y1", it.y).attr("y2", it.y)
    .attr("stroke", it.c).attr("stroke-width", 3);
  rich(gAx.append("text").attr("x", it.tx).attr("y", it.y + 4).style("font-size", "14px").attr("fill", "#222"), it.parts, 14);
});

// ---------- Panel (b) ----------
const xB = d3.scaleLog().domain([1e-6, 1e3]).range([46, 425]);
const yB = d3.scaleLinear().domain([0, 40]).range([650, 381]);
const lineB = d3.line().x(d => xB(toSec(d[0]))).y(d => yB(d[1]));
const gB = svg.append("g").attr("clip-path", "url(#clipB)");
tracesB.forEach((vals, i) => {
  const pts = gridB.slice(0, vals.length).map((t, j) => [t, vals[j]]);
  gB.append("path").attr("d", lineB(pts)).attr("fill", "none")
    .attr("stroke", colorsB[i % colorsB.length]).attr("stroke-width", 0.9);
});
tailSeries.forEach((vals, i) => {
  const pts = gridTail.slice(0, vals.length).map((t, j) => [t, vals[j]]);
  gB.append("path").attr("d", lineB(pts)).attr("fill", "none")
    .attr("stroke", tailColors[i]).attr("stroke-width", tailWidths[i]);
});

const gBx = svg.append("g");
xAxis(gBx, xB, 650, 7, 4, 1.3);
yAxis(gBx, yB, 46, yTicksB, [2.5,7.5,12.5,17.5,22.5,27.5,32.5,37.5], 7, 4, 13, 7, 1.3, 0.25);
gBx.append("rect").attr("x", 46).attr("y", 381).attr("width", 379).attr("height", 269)
  .attr("fill", "none").attr("stroke", "#111").attr("stroke-width", 1.6);
gBx.append("line").attr("x1", 46).attr("x2", 46).attr("y1", 381).attr("y2", 651).attr("stroke", "#111").attr("stroke-width", 2.4);
gBx.append("line").attr("x1", 45).attr("x2", 426).attr("y1", 650).attr("y2", 650).attr("stroke", "#111").attr("stroke-width", 2.2);
xLabels(gBx, xB, 668, 13, 432);
gBx.append("text").attr("x", 230).attr("y", 685).attr("text-anchor", "middle")
  .attr("textLength", 150).attr("lengthAdjust", "spacing")
  .style("font-size", "15.5px").attr("fill", "#222").text("recovery time (s)");
rich(gBx.append("text").attr("transform", "translate(14,507) rotate(-90)").attr("text-anchor", "middle")
  .style("font-size", "15px").attr("fill", "#222"), [["ΔV","n"],["T","sub"],[" (mV)","n"]], 15);
gBx.append("text").attr("x", 53).attr("y", 401).style("font-size", "16px").attr("fill", "#222").text("(b)");

gBx.append("rect").attr("x", 216).attr("y", 382).attr("width", 210).attr("height", 82)
  .attr("fill", "#fff").attr("stroke", "#222").attr("stroke-width", 1.2);
const infoB = [
  [["V","n"],["GS","sub"],["=-1.5V, V","n"],["GR","sub"],["=V","n"],["Meas.","sub"],["=-0.5V","n"]],
  [["t","n"],["STR","sub"],["= 100ms, T=30","n"],["o","sup"],["C","n"]],
  [["WxL=90x70 nm","n"]],
  [["100 Sweeps","n"]]
];
const infoBY = [398, 420, 441, 458];
infoB.forEach((parts, i) => {
  rich(gBx.append("text").attr("x", 223).attr("y", infoBY[i]).style("font-size", "13.5px").attr("fill", "#222"), parts, 13.5);
});

// RTN annotation
gBx.append("text").attr("x", 348).attr("y", 542).attr("text-anchor", "middle")
  .style("font-size", "14px").attr("fill", "#222").text("RTN");
gBx.append("line").attr("x1", 351.5).attr("x2", 351.5).attr("y1", 547).attr("y2", 596)
  .attr("stroke", "#111").attr("stroke-width", 1.2);
gBx.append("path").attr("d", "M347.5,594 L355.5,594 L351.5,603 Z").attr("fill", "#111");

svg.selectAll("text").style("font-family", FONT);
</script>
</body>
</html>
